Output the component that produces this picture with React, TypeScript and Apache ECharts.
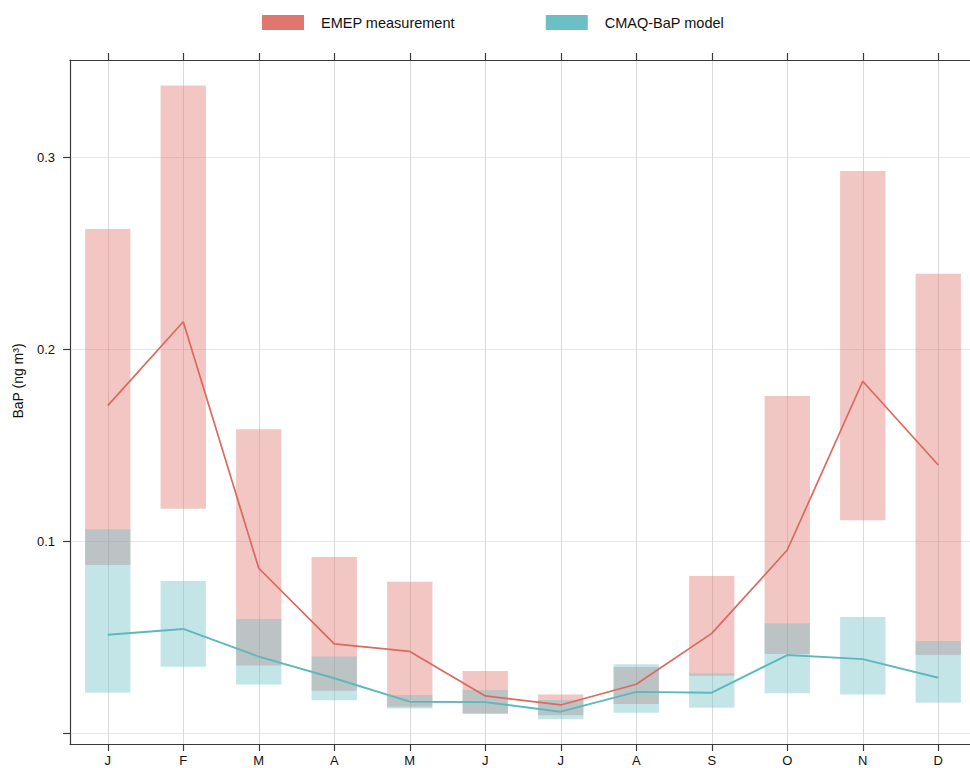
import React, { useEffect, useRef } from "react";
import * as echarts from "echarts";

// Monthly BaP concentrations: observed range/mean vs modelled range/mean
const months = ["J", "F", "M", "A", "M", "J", "J", "A", "S", "O", "N", "D"];

const emepLow = [0.0875, 0.1168, 0.0351, 0.022, 0.0137, 0.01, 0.0092, 0.0151, 0.0298, 0.0411, 0.1108, 0.0406];
const emepHigh = [0.2625, 0.3373, 0.1582, 0.0917, 0.0788, 0.0323, 0.02, 0.0344, 0.0818, 0.1755, 0.2927, 0.2392];
const emepMean = [0.1705, 0.2142, 0.0858, 0.0464, 0.0425, 0.0193, 0.0146, 0.0254, 0.0519, 0.0953, 0.1832, 0.1396];

const cmaqLow = [0.021, 0.0345, 0.0252, 0.017, 0.0127, 0.0101, 0.0071, 0.0106, 0.0132, 0.0207, 0.02, 0.0158];
const cmaqHigh = [0.1061, 0.0792, 0.0594, 0.0398, 0.0198, 0.0224, 0.0172, 0.0358, 0.0311, 0.0571, 0.0604, 0.0479];
const cmaqMean = [0.0512, 0.0542, 0.0398, 0.0285, 0.0163, 0.0161, 0.0111, 0.0214, 0.021, 0.0406, 0.0385, 0.0288];

const yTicks = [0, 0.1, 0.2, 0.3];
const yLabels = [0.1, 0.2, 0.3];

const FONT = "'Liberation Sans', Arial, Helvetica, sans-serif";
const AXIS_COLOR = "#3a3a3a";

const rangeSeries = (name: string, low: number[], high: number[], fill: string) => ({
  name,
  type: "custom",
  xAxisIndex: 0,
  yAxisIndex: 0,
  itemStyle: { color: fill },
  data: months.map((_, i) => [i, low[i], high[i]]),
  encode: { x: 0, y: [1, 2] },
  renderItem: (params: any, api: any) => {
    const i = api.value(0);
    const top = api.coord([i, api.value(2)]);
    const bottom = api.coord([i, api.value(1)]);
    const w = api.size([1, 0])[0] * 0.6;
    return {
      type: "rect",
      shape: { x: top[0] - w / 2, y: top[1], width: w, height: bottom[1] - top[1] },
      style: { fill },
    };
  },
});

const meanSeries = (name: string, values: number[], color: string, width: number) => ({
  name,
  type: "line",
  xAxisIndex: 0,
  yAxisIndex: 0,
  data: values.map((v, i) => [i, v]),
  symbol: "none",
  lineStyle: { color, width },
  itemStyle: { color },
  z: 5,
});

export default function App() {
  const ref = useRef<HTMLDivElement>(null);

  useEffect(() => {
    if (!ref.current) return;
    const chart = echarts.init(ref.current, null, { renderer: "svg" });

    const xBase = {
      type: "value",
      min: -0.5,
      max: 11.5,
      gridIndex: 0,
    };

    chart.setOption({
      animation: false,
      backgroundColor: "#ffffff",
      textStyle: { fontFamily: FONT },
      grid: {
        left: 70,
        top: 60,
        width: 906,
        height: 684,
        containLabel: false,
        outerBoundsMode: "none",
      },
      legend: {
        left: 262,
        top: 15,
        padding: 0,
        itemWidth: 42,
        itemHeight: 15,
        itemGap: 91,
        icon: "rect",
        selectedMode: false,
        textStyle: { fontFamily: FONT, fontSize: 14.5, color: "#111", padding: [0, 0, 0, 12] },
        data: [
          { name: "EMEP measurement", itemStyle: { color: "#E0776E" } },
          { name: "CMAQ-BaP model", itemStyle: { color: "#6BC0C5" } },
        ],
      },
      xAxis: [
        {
          ...xBase,
          position: "bottom",
          offset: 0,
          axisLine: { show: true, onZero: false, lineStyle: { color: AXIS_COLOR, width: 1.2 } },
          axisTick: {
            show: true,
            length: 7,
            inside: false,
            customValues: months.map((_, i) => i),
            lineStyle: { color: AXIS_COLOR, width: 1.2 },
          },
          axisLabel: {
            show: true,
            margin: 10,
            fontSize: 13,
            lineHeight: 13,
            color: "#111",
            fontFamily: FONT,
            customValues: months.map((_, i) => i),
            formatter: (v: number) => months[Math.round(v)] ?? "",
          },
          splitLine: {
            show: true,
            customValues: months.map((_, i) => i),
            lineStyle: { color: "#DADADA", width: 1 },
          },
        },
        {
          ...xBase,
          position: "top",
          axisLine: { show: true, onZero: false, lineStyle: { color: AXIS_COLOR, width: 1.2 } },
          axisTick: {
            show: true,
            length: 7,
            inside: false,
            customValues: months.map((_, i) => i),
            lineStyle: { color: AXIS_COLOR, width: 1.2 },
          },
          axisLabel: { show: false },
          splitLine: { show: false },
        },
      ],
      yAxis: [
        {
          type: "value",
          min: -11 / 1920,
          max: 673 / 1920,
          axisLine: { show: true, onZero: false, lineStyle: { color: AXIS_COLOR, width: 1.2 } },
          axisTick: {
            show: true,
            length: 7,
            inside: false,
            customValues: yTicks,
            lineStyle: { color: AXIS_COLOR, width: 1.2 },
          },
          axisLabel: {
            show: true,
            margin: 15,
            fontSize: 13,
            color: "#111",
            fontFamily: FONT,
            customValues: yLabels,
            formatter: (v: number) => v.toFixed(1),
          },
          splitLine: {
            show: true,
            customValues: yTicks,
            lineStyle: { color: "#E6E6E6", width: 1 },
          },
        },
      ],
      graphic: [
        {
          type: "text",
          x: 18,
          y: 381,
          rotation: Math.PI / 2,
          style: {
            text: "BaP (ng m³)",
            fontFamily: FONT,
            fontSize: 14,
            fill: "#111",
            textAlign: "center",
            textVerticalAlign: "middle",
          },
        },
      ],
      series: [
        rangeSeries("EMEP measurement", emepLow, emepHigh, "rgba(224,120,112,0.42)"),
        rangeSeries("CMAQ-BaP model", cmaqLow, cmaqHigh, "rgba(107,191,197,0.4)"),
        meanSeries("EMEP mean", emepMean, "#DD685E", 1.7),
        meanSeries("CMAQ mean", cmaqMean, "#5DB8BE", 1.9),
      ],
    });

    return () => chart.dispose();
  }, []);

  // The plot frame runs a few pixels past the right edge of the visible page.
  return (
    <div
      style={{
        position: "absolute",
        left: 0,
        top: 0,
        width: 970,
        height: 768,
        overflow: "hidden",
        background: "#ffffff",
      }}
    >
      <div ref={ref} style={{ width: 976, height: 768 }} />
    </div>
  );
}
